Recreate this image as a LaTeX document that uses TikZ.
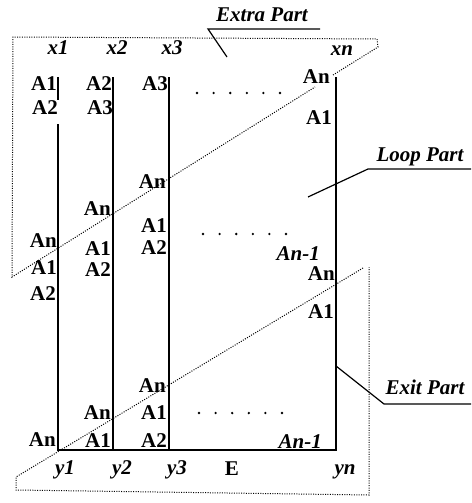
\documentclass[tikz,border=0pt]{standalone}
\usepackage{fontspec}
\setmainfont{Liberation Serif}
\begin{document}
\begin{tikzpicture}[x=1pt, y=-1pt,
		entry/.style={font=\fontsize{21}{24}\selectfont\bfseries, anchor=east, inner sep=0pt},
		tag/.style={font=\fontsize{21}{24}\selectfont\bfseries\itshape, inner sep=0pt},
		wire/.style={line width=1.5pt},
		frame/.style={dash pattern=on 1pt off 1.4pt, line width=1pt},
		lead/.style={line width=1.2pt}]
		
		\useasboundingbox (0,0) rectangle (471,503);
		
		% Column lines
		\coordinate (t1) at (58,77);  \coordinate (m1) at (58,100);
		\coordinate (n1) at (58,124); \coordinate (b1) at (58,450);
		\coordinate (t2) at (113,77); \coordinate (b2) at (113,450);
		\coordinate (t3) at (169,77); \coordinate (b3) at (169,450);
		\coordinate (tn) at (336,77); \coordinate (bn) at (336,450);
		\draw[wire] (t1) -- (m1) (n1) -- (b1) -- (bn) -- (tn);
		\draw[wire] (t2) -- (b2);
		\draw[wire] (t3) -- (b3);
		
		% Column heads and feet
		\node[tag] (x1) at (58,48) {x1};
		\node[tag] (x2) at (117,48) {x2};
		\node[tag] (x3) at (172,48) {x3};
		\node[tag] (xn) at (342,51) {xn};
		\node[tag] (y1) at (65,470) {y1};
		\node[tag] (y2) at (122,470) {y2};
		\node[tag] (y3) at (177,470) {y3};
		\node[font=\fontsize{21}{24}\selectfont\bfseries, inner sep=0pt] (e) at (232,469) {E};
		\node[tag] (yn) at (345,472) {yn};
		
		% Entries of column 1
		\node[entry] (p1a) at (57,84) {A1};
		\node[entry] (p1b) at (58,108) {A2};
		\node[entry] (p1c) at (57,241) {An};
		\node[entry] (p1d) at (57,268) {A1};
		\node[entry] (p1e) at (56,294) {A2};
		\node[entry] (p1f) at (56,440) {An};
		
		% Entries of column 2
		\node[entry] (p2a) at (112,84) {A2};
		\node[entry] (p2b) at (113,108) {A3};
		\node[entry] (p2c) at (111,209) {An};
		\node[entry] (p2d) at (111,249) {A1};
		\node[entry] (p2e) at (111,270) {A2};
		\node[entry] (p2f) at (111,413) {An};
		\node[entry] (p2g) at (111,441) {A1};
		
		% Entries of column 3
		\node[entry] (p3a) at (168,84) {A3};
		\node[entry] (p3b) at (166,182) {An};
		\node[entry] (p3c) at (167,226) {A1};
		\node[entry] (p3d) at (167,248) {A2};
		\node[entry] (p3e) at (166,386) {An};
		\node[entry] (p3f) at (167,413) {A1};
		\node[entry] (p3g) at (167,441) {A2};
		
		% Entries of column n
		\node[entry] (pna) at (330,77) {An};
		\node[entry] (pnb) at (332,118) {A1};
		\node[tag, anchor=east] (pnc) at (320,254) {An-1};
		\node[entry] (pnd) at (335,274) {An};
		\node[entry] (pne) at (334,312) {A1};
		\node[tag, anchor=east] (pnf) at (322,442) {An-1};
		
		% Dot rows
		\foreach \s/\y in {197/93, 203/234, 199/413}
		\foreach \k in {0,...,5}
		\fill (\s+16.6*\k,\y) circle (1.3);
		
		% Extra and loop frame
		\coordinate (f1) at (13,37);
		\coordinate (f2) at (377,39);
		\coordinate (f3) at (378,47);
		\coordinate (f4) at (333,75);
		\coordinate (f5) at (315,87);
		\coordinate (f6) at (12,277);
		\draw[frame] (f4) -- (f3) -- (f2) -- (f1) -- (f6) -- (f5);
		
		% Exit frame
		\coordinate (g1) at (16,477);
		\coordinate (g2) at (363,268);
		\coordinate (g3) at (369,267);
		\coordinate (g4) at (369,495);
		\coordinate (g5) at (16,490);
		\draw[frame] (g2) -- (g1) -- (g5) -- (g4) -- (g3);
		
		% Part labels
		\node[tag] (extra) at (262,15) {Extra Part};
		\coordinate (eu) at (208,29); \coordinate (ev) at (320,29);
		\coordinate (ew) at (227,57);
		\draw[lead] (ew) -- (eu) -- (ev);
		
		\node[tag] (loop) at (420,157) {Loop Part};
		\coordinate (lu) at (368,169); \coordinate (lv) at (471,169);
		\coordinate (lw) at (308,197);
		\draw[lead] (lw) -- (lu) -- (lv);
		
		\node[tag] (exit) at (425,387) {Exit Part};
		\coordinate (xu) at (384,404); \coordinate (xv) at (471,404);
		\coordinate (xw) at (336,366);
		\draw[lead] (xw) -- (xu) -- (xv);
		
	\end{tikzpicture}
\end{document}
